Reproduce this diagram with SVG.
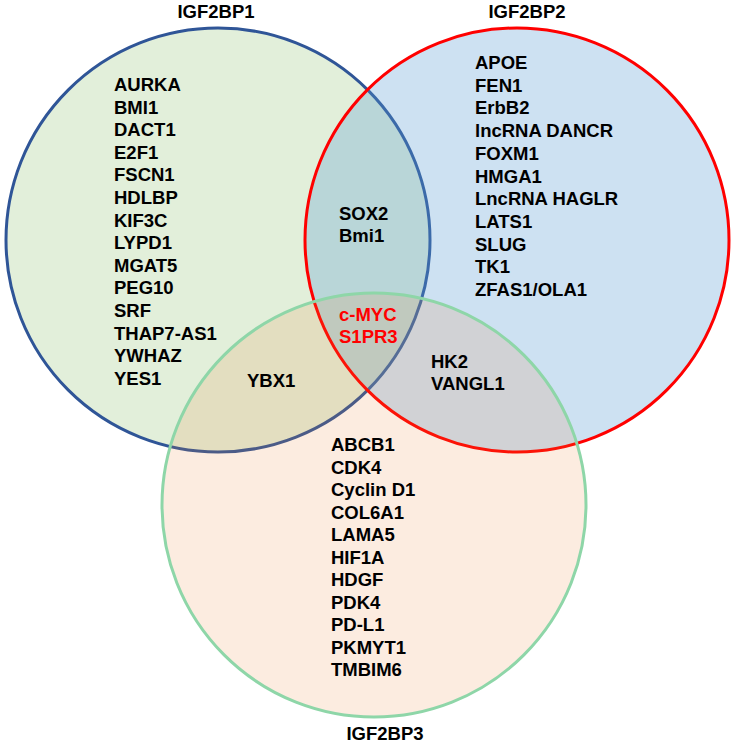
<svg xmlns="http://www.w3.org/2000/svg" width="735" height="746" viewBox="0 0 735 746">
<style>
text{font-family:"Liberation Sans",Arial,sans-serif;font-weight:bold;font-size:18.5px;fill:#000}
.title{text-anchor:middle}
.red{fill:#FF0000}
.c{stroke-width:3}
</style>
<rect width="735" height="746" fill="#fff"/>
<g id="igf2bp1">
<circle class="c" cx="218" cy="240" r="212" fill="#70AD47" fill-opacity="0.2" stroke="#2F5597"/>
<text class="title" x="216" y="18">IGF2BP1</text>
</g>
<g id="igf2bp2">
<circle class="c" cx="517" cy="240" r="212" fill="#5B9BD5" fill-opacity="0.3" stroke="#FF0000"/>
<text class="title" x="527" y="18">IGF2BP2</text>
</g>
<g id="igf2bp3">
<circle class="c" cx="374" cy="505" r="212" fill="#ED7D31" fill-opacity="0.15" stroke="#8ED6A8"/>
<text class="title" x="385" y="740">IGF2BP3</text>
</g>
<g id="only1">
<text x="114" y="91">AURKA</text>
<text x="114" y="113.6">BMI1</text>
<text x="114" y="136.2">DACT1</text>
<text x="114" y="158.8">E2F1</text>
<text x="114" y="181.4">FSCN1</text>
<text x="114" y="204">HDLBP</text>
<text x="114" y="226.6">KIF3C</text>
<text x="114" y="249.2">LYPD1</text>
<text x="114" y="271.8">MGAT5</text>
<text x="114" y="294.4">PEG10</text>
<text x="114" y="317">SRF</text>
<text x="114" y="339.6">THAP7-AS1</text>
<text x="114" y="362.2">YWHAZ</text>
<text x="114" y="384.8">YES1</text>
</g>
<g id="only2">
<text x="475" y="69">APOE</text>
<text x="475" y="91.7">FEN1</text>
<text x="475" y="114.4">ErbB2</text>
<text x="475" y="137.1">lncRNA DANCR</text>
<text x="475" y="159.8">FOXM1</text>
<text x="475" y="182.5">HMGA1</text>
<text x="475" y="205.2">LncRNA HAGLR</text>
<text x="475" y="227.9">LATS1</text>
<text x="475" y="250.6">SLUG</text>
<text x="475" y="273.3">TK1</text>
<text x="475" y="296">ZFAS1/OLA1</text>
</g>
<g id="only3">
<text x="331" y="451">ABCB1</text>
<text x="331" y="473.5">CDK4</text>
<text x="331" y="496">Cyclin D1</text>
<text x="331" y="518.5">COL6A1</text>
<text x="331" y="541">LAMA5</text>
<text x="331" y="563.5">HIF1A</text>
<text x="331" y="586">HDGF</text>
<text x="331" y="608.5">PDK4</text>
<text x="331" y="631">PD-L1</text>
<text x="331" y="653.5">PKMYT1</text>
<text x="331" y="676">TMBIM6</text>
</g>
<g id="both12">
<text x="339" y="220">SOX2</text>
<text x="339" y="242">Bmi1</text>
</g>
<g id="all">
<text class="red" x="339" y="321">c-MYC</text>
<text class="red" x="339" y="343">S1PR3</text>
</g>
<g id="both13">
<text x="247" y="387">YBX1</text>
</g>
<g id="both23">
<text x="431" y="368">HK2</text>
<text x="431" y="390">VANGL1</text>
</g>
</svg>
